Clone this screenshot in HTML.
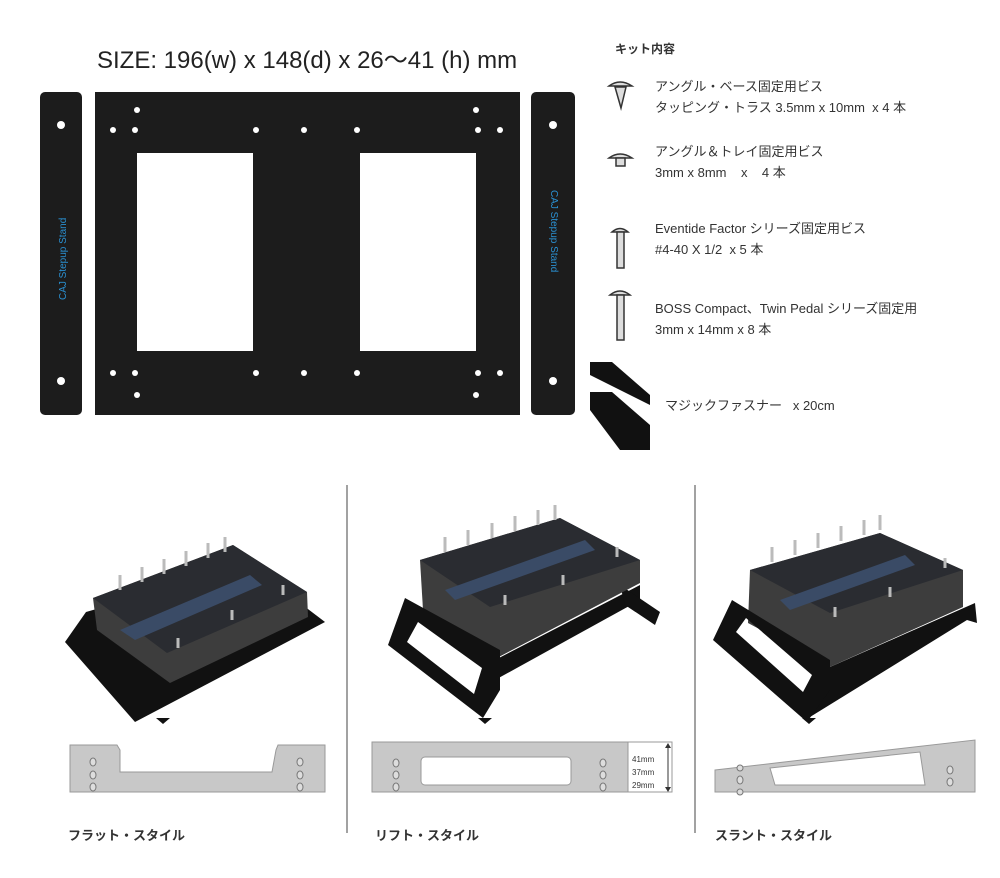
<!DOCTYPE html>
<html><head><meta charset="utf-8"><style>
html,body{margin:0;padding:0;background:#fff;}
body{width:1000px;height:878px;position:relative;overflow:hidden;font-family:"Liberation Sans","Noto Sans CJK JP",sans-serif;}
.t{position:absolute;color:#333;white-space:nowrap;}
</style></head><body>
<svg width="1000" height="878" style="position:absolute;left:0;top:0">
<rect x="40" y="92" width="42" height="323" rx="5" fill="#1c1c1c"/>
<rect x="95" y="92" width="425" height="323" fill="#1c1c1c"/>
<rect x="531" y="92" width="44" height="323" rx="5" fill="#1c1c1c"/>
<rect x="137" y="153" width="116" height="198" fill="#fff"/>
<rect x="360" y="153" width="116" height="198" fill="#fff"/>
<g fill="#fff">
<circle cx="61" cy="125" r="4"/><circle cx="61" cy="381" r="4"/>
<circle cx="553" cy="125" r="4"/><circle cx="553" cy="381" r="4"/>
<circle cx="137" cy="110" r="3"/><circle cx="476" cy="110" r="3"/>
<circle cx="113" cy="130" r="3"/><circle cx="135" cy="130" r="3"/><circle cx="256" cy="130" r="3"/><circle cx="304" cy="130" r="3"/><circle cx="357" cy="130" r="3"/><circle cx="478" cy="130" r="3"/><circle cx="500" cy="130" r="3"/>
<circle cx="113" cy="373" r="3"/><circle cx="135" cy="373" r="3"/><circle cx="256" cy="373" r="3"/><circle cx="304" cy="373" r="3"/><circle cx="357" cy="373" r="3"/><circle cx="478" cy="373" r="3"/><circle cx="500" cy="373" r="3"/>
<circle cx="137" cy="395" r="3"/><circle cx="476" cy="395" r="3"/>
</g>
<text x="66" y="300" transform="rotate(-90 66 300)" fill="#2a8fd0" font-size="10" font-family="Liberation Sans">CAJ   Stepup Stand</text>
<text x="551" y="190" transform="rotate(90 551 190)" fill="#2a8fd0" font-size="10" font-family="Liberation Sans">CAJ   Stepup Stand</text>
<g fill="#ddd" stroke="#333" stroke-width="1.5">
<path d="M609 86 Q620 78 632 86 Z"/><path d="M615 87 L626 87 L621 108 Z"/>
<path d="M609 158 Q620 150 632 158 Z"/><rect x="616" y="158" width="9" height="8"/>
<path d="M612 232 Q620 225 628 232 Z"/><rect x="617" y="232" width="7" height="36"/>
<path d="M610 295 Q620 287 630 295 Z"/><rect x="617" y="295" width="7" height="45"/>
</g>
<polygon points="590,362 612,362 650,395 650,405 590,375" fill="#111"/>
<polygon points="590,392 612,392 650,425 650,450 620,450 590,410" fill="#111"/>
<line x1="347" y1="485" x2="347" y2="833" stroke="#444" stroke-width="1"/>
<line x1="695" y1="485" x2="695" y2="833" stroke="#444" stroke-width="1"/>

<!-- pedal 1 -->
<polygon points="65,642 86,612 250,565 325,622 135,722" fill="#111"/>
<polygon points="93,598 233,545 307,592 308,617 170,683 97,630" fill="#3d3d3d"/>
<polygon points="93,598 233,545 307,592 167,653" fill="#2a2c31"/>
<polygon points="120,630 250,575 262,585 135,640" fill="#3a4b66"/>
<g stroke="#bbb" stroke-width="3"><line x1="120" y1="590" x2="120" y2="575"/><line x1="142" y1="582" x2="142" y2="567"/><line x1="164" y1="574" x2="164" y2="559"/><line x1="186" y1="566" x2="186" y2="551"/><line x1="208" y1="558" x2="208" y2="543"/><line x1="225" y1="552" x2="225" y2="537"/>
<line x1="178" y1="648" x2="178" y2="638"/><line x1="232" y1="620" x2="232" y2="610"/><line x1="283" y1="595" x2="283" y2="585"/></g>

<!-- pedal 2 -->
<polygon points="495,660 640,585 640,600 495,680" fill="#111"/>
<polygon points="620,585 660,612 655,625 625,605" fill="#111"/>
<polygon points="420,560 560,518 640,560 640,583 493,660 423,610" fill="#3d3d3d"/>
<polygon points="420,560 560,518 640,560 490,607" fill="#2a2c31"/>
<polygon points="445,590 585,540 595,550 455,600" fill="#3a4b66"/>
<path d="M405,598 L388,645 L483,718 L500,690 L500,650 Z M418,622 L407,642 L474,694 L482,668 Z" fill="#111" fill-rule="evenodd"/>
<g stroke="#bbb" stroke-width="3"><line x1="445" y1="552" x2="445" y2="537"/><line x1="468" y1="545" x2="468" y2="530"/><line x1="492" y1="538" x2="492" y2="523"/><line x1="515" y1="531" x2="515" y2="516"/><line x1="538" y1="525" x2="538" y2="510"/><line x1="555" y1="520" x2="555" y2="505"/>
<line x1="505" y1="605" x2="505" y2="595"/><line x1="563" y1="585" x2="563" y2="575"/><line x1="617" y1="557" x2="617" y2="547"/></g>

<!-- pedal 3 -->
<polygon points="810,717 967,620 977,623 975,603 830,667" fill="#111"/>
<polygon points="750,570 880,533 963,570 963,607 830,667 748,623" fill="#3d3d3d"/>
<polygon points="750,570 880,533 963,570 830,613" fill="#2a2c31"/>
<polygon points="780,600 905,555 915,565 790,610" fill="#3a4b66"/>
<path d="M732,600 L713,640 L807,722 L830,690 L830,660 Z M746,618 L736,632 L803,692 L812,675 Z" fill="#111" fill-rule="evenodd"/>
<g stroke="#bbb" stroke-width="3"><line x1="772" y1="562" x2="772" y2="547"/><line x1="795" y1="555" x2="795" y2="540"/><line x1="818" y1="548" x2="818" y2="533"/><line x1="841" y1="541" x2="841" y2="526"/><line x1="864" y1="535" x2="864" y2="520"/><line x1="880" y1="530" x2="880" y2="515"/>
<line x1="835" y1="617" x2="835" y2="607"/><line x1="890" y1="597" x2="890" y2="587"/><line x1="945" y1="568" x2="945" y2="558"/></g>

<polygon points="156,718 170,718 163,724" fill="#111"/>
<polygon points="478,718 492,718 485,724" fill="#111"/>
<polygon points="802,718 816,718 809,724" fill="#111"/>

<path d="M70,745 L117,745 L120,750 L120,772 L272,772 L276,750 L278,745 L325,745 L325,792 L70,792 Z" fill="#c8c8c8" stroke="#999"/>
<g fill="#ddd" stroke="#777"><ellipse cx="93" cy="762" rx="3" ry="4"/><ellipse cx="93" cy="775" rx="3" ry="4"/><ellipse cx="93" cy="787" rx="3" ry="4"/>
<ellipse cx="300" cy="762" rx="3" ry="4"/><ellipse cx="300" cy="775" rx="3" ry="4"/><ellipse cx="300" cy="787" rx="3" ry="4"/></g>
<rect x="372" y="742" width="256" height="50" fill="#c8c8c8" stroke="#999"/>
<rect x="421" y="757" width="150" height="28" rx="4" fill="#fff" stroke="#999"/>
<rect x="628" y="742" width="44" height="50" fill="#fff" stroke="#999"/>
<line x1="668" y1="745" x2="668" y2="790" stroke="#333"/>
<polygon points="665,748 671,748 668,743" fill="#333"/><polygon points="665,787 671,787 668,792" fill="#333"/>
<g fill="#ddd" stroke="#777"><ellipse cx="396" cy="775" rx="3" ry="4"/><ellipse cx="396" cy="787" rx="3" ry="4"/><ellipse cx="396" cy="763" rx="3" ry="4"/>
<ellipse cx="603" cy="775" rx="3" ry="4"/><ellipse cx="603" cy="787" rx="3" ry="4"/><ellipse cx="603" cy="763" rx="3" ry="4"/></g>
<text x="632" y="762" font-size="8" fill="#333">41mm</text><text x="632" y="775" font-size="8" fill="#333">37mm</text><text x="632" y="788" font-size="8" fill="#333">29mm</text>
<path d="M715,770 L975,740 L975,792 L715,792 Z" fill="#c8c8c8" stroke="#999"/>
<path d="M770,768 L920,752 L925,785 L775,785 Z" fill="#fff" stroke="#999"/>
<g fill="#ddd" stroke="#777"><ellipse cx="740" cy="780" rx="3" ry="4"/><ellipse cx="740" cy="792" rx="3" ry="3"/><ellipse cx="740" cy="768" rx="3" ry="3"/>
<ellipse cx="950" cy="770" rx="3" ry="4"/><ellipse cx="950" cy="782" rx="3" ry="4"/></g>
</svg>
<div class="t" style="left:97px;top:40px;font-size:24px;color:#222">SIZE: 196(w) x 148(d) x 26〜41 (h) mm</div>
<div class="t" style="left:615px;top:40px;font-size:12px;font-weight:bold">キット内容</div>
<div class="t" style="left:655px;top:76px;font-size:13px;line-height:21px">アングル・ベース固定用ビス<br>タッピング・トラス 3.5mm x 10mm&nbsp; x 4 本</div>
<div class="t" style="left:655px;top:141px;font-size:13px;line-height:21px">アングル＆トレイ固定用ビス<br>3mm x 8mm &nbsp;&nbsp; x &nbsp;&nbsp; 4 本</div>
<div class="t" style="left:655px;top:218px;font-size:13px;line-height:21px">Eventide Factor シリーズ固定用ビス<br>#4-40 X 1/2&nbsp; x 5 本</div>
<div class="t" style="left:655px;top:298px;font-size:13px;line-height:21px">BOSS Compact、Twin Pedal シリーズ固定用<br>3mm x 14mm x 8 本</div>
<div class="t" style="left:665px;top:395px;font-size:13px">マジックファスナー &nbsp; x 20cm</div>
<div class="t" style="left:68px;top:825px;font-size:13px;font-weight:bold">フラット・スタイル</div>
<div class="t" style="left:375px;top:825px;font-size:13px;font-weight:bold">リフト・スタイル</div>
<div class="t" style="left:715px;top:825px;font-size:13px;font-weight:bold">スラント・スタイル</div>
</body></html>
